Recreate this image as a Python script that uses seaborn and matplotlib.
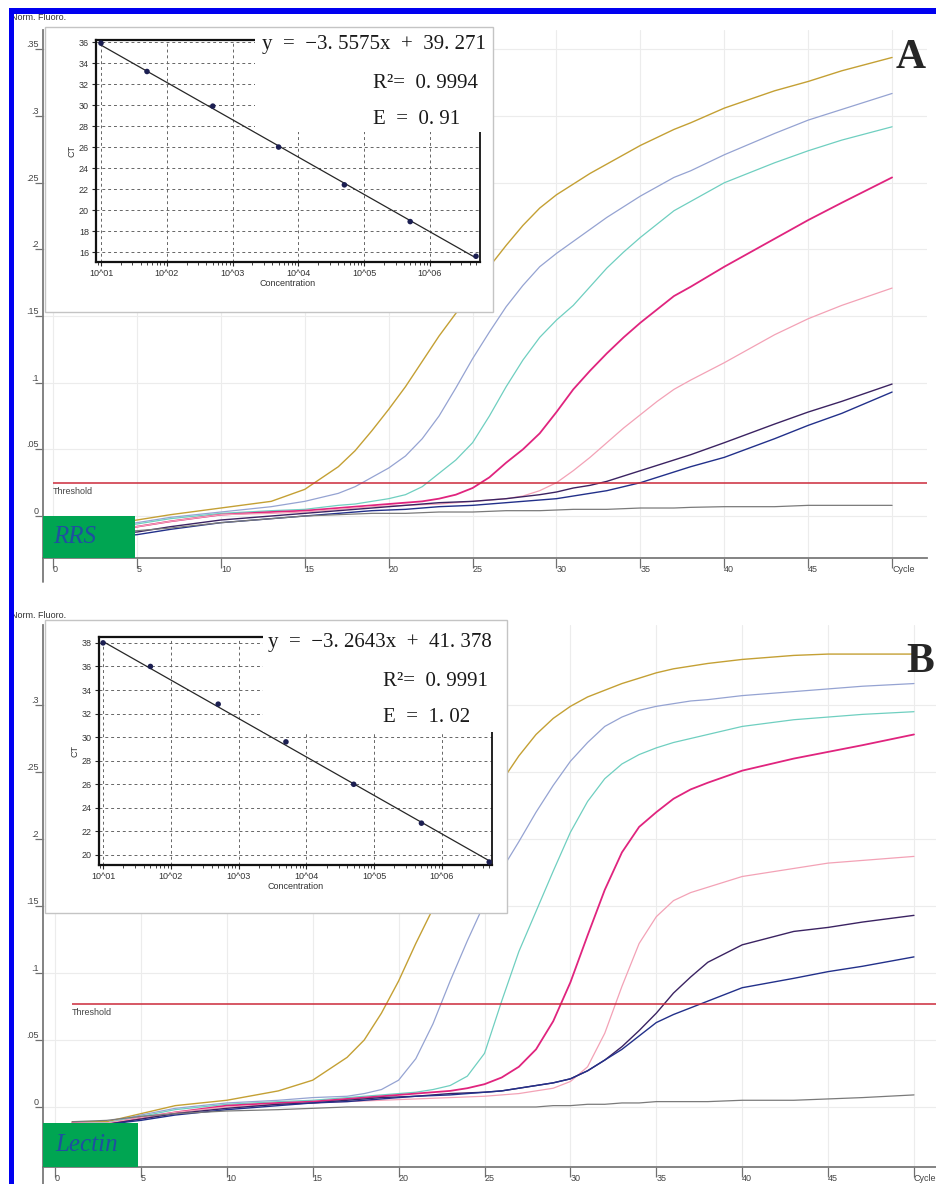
import numpy as np
import pandas as pd
import matplotlib
matplotlib.use('Agg')
import matplotlib.pyplot as plt
from matplotlib.patches import Rectangle
import seaborn as sns

W, H = 937, 1184

# amplification curves (Norm. Fluoro. vs cycle)
cycles = [1, 3, 5, 7, 10, 13, 15, 17, 18, 19, 20, 21, 22, 23, 24, 25, 26, 27, 28, 29, 30,
          31, 32, 33, 34, 35, 36, 37, 38, 40, 43, 45, 47, 50]
sample_names = ['std1', 'std2', 'std3', 'std4', 'std5', 'std6', 'std7', 'NTC']
line_colors = ['#c4a034', '#95a3d2', '#6fcfc0', '#e0247e', '#f3a2b6', '#3b2362', '#22308a', '#7a7a7a']
line_widths = [1.0, 0.9, 0.9, 1.3, 0.9, 1.0, 1.0, 0.9]

# panel A (RRS)
gold_a = [-0.012, -0.007, -0.003, 0.001, 0.006, 0.011, 0.020, 0.037, 0.049, 0.064, 0.080, 0.097, 0.116, 0.135, 0.152, 0.168, 0.187,
          0.203, 0.218, 0.231, 0.241, 0.249, 0.257, 0.264, 0.271, 0.278, 0.284, 0.290, 0.295, 0.306, 0.319, 0.326, 0.334, 0.344]
blue_a = [-0.014, -0.009, -0.005, -0.001, 0.003, 0.007, 0.011, 0.017, 0.022, 0.029, 0.036, 0.045, 0.058, 0.075, 0.096, 0.118, 0.138,
          0.157, 0.173, 0.187, 0.197, 0.206, 0.215, 0.224, 0.232, 0.240, 0.247, 0.254, 0.259, 0.271, 0.287, 0.297, 0.305, 0.317]
cyan_a = [-0.013, -0.009, -0.006, -0.002, 0.002, 0.004, 0.005, 0.008, 0.009, 0.011, 0.013, 0.016, 0.022, 0.032, 0.042, 0.055, 0.075,
          0.097, 0.117, 0.134, 0.147, 0.158, 0.172, 0.186, 0.198, 0.209, 0.219, 0.229, 0.236, 0.250, 0.265, 0.274, 0.282, 0.292]
mag_a = [-0.013, -0.011, -0.008, -0.004, 0.001, 0.003, 0.004, 0.006, 0.007, 0.008, 0.009, 0.010, 0.011, 0.013, 0.016, 0.021, 0.029,
         0.040, 0.050, 0.062, 0.078, 0.095, 0.109, 0.122, 0.134, 0.145, 0.155, 0.165, 0.172, 0.187, 0.208, 0.222, 0.235, 0.254]
pink_a = [-0.012, -0.010, -0.008, -0.004, 0.001, 0.002, 0.003, 0.005, 0.006, 0.007, 0.0075, 0.008, 0.0085, 0.009, 0.010, 0.011, 0.012,
          0.013, 0.015, 0.019, 0.025, 0.034, 0.044, 0.055, 0.066, 0.076, 0.086, 0.095, 0.102, 0.115, 0.136, 0.148, 0.158, 0.171]
purple_a = [-0.016, -0.014, -0.012, -0.008, -0.003, 0.000, 0.002, 0.004, 0.005, 0.006, 0.007, 0.008, 0.009, 0.010, 0.0105, 0.011, 0.012,
            0.013, 0.0145, 0.016, 0.018, 0.021, 0.023, 0.026, 0.030, 0.034, 0.038, 0.042, 0.046, 0.055, 0.069, 0.078, 0.086, 0.099]
navy_a = [-0.018, -0.016, -0.014, -0.010, -0.005, -0.002, 0.000, 0.002, 0.003, 0.004, 0.0045, 0.005, 0.006, 0.007, 0.0075, 0.008, 0.009,
          0.010, 0.011, 0.012, 0.013, 0.015, 0.017, 0.019, 0.022, 0.025, 0.029, 0.033, 0.037, 0.044, 0.058, 0.068, 0.077, 0.093]
grey_a = [-0.015, -0.013, -0.011, -0.009, -0.005, -0.002, 0.000, 0.001, 0.0015, 0.002, 0.002, 0.002, 0.0025, 0.003, 0.003, 0.003, 0.0035,
          0.004, 0.004, 0.004, 0.0045, 0.005, 0.005, 0.005, 0.0055, 0.006, 0.006, 0.006, 0.0065, 0.007, 0.007, 0.008, 0.008, 0.008]

# panel B (Lectin)
gold_b = [-0.011, -0.011, -0.005, 0.001, 0.005, 0.012, 0.020, 0.037, 0.050, 0.070, 0.094, 0.122, 0.148, 0.175, 0.200, 0.222, 0.243,
          0.262, 0.278, 0.290, 0.299, 0.306, 0.311, 0.316, 0.320, 0.324, 0.327, 0.329, 0.331, 0.334, 0.337, 0.338, 0.338, 0.338]
blue_b = [-0.012, -0.012, -0.006, -0.001, 0.003, 0.005, 0.007, 0.008, 0.010, 0.013, 0.020, 0.036, 0.062, 0.094, 0.124, 0.152, 0.177,
          0.198, 0.220, 0.240, 0.258, 0.272, 0.284, 0.291, 0.296, 0.299, 0.301, 0.303, 0.304, 0.307, 0.310, 0.312, 0.314, 0.316]
cyan_b = [-0.012, -0.012, -0.007, -0.002, 0.002, 0.004, 0.005, 0.007, 0.008, 0.009, 0.010, 0.011, 0.013, 0.016, 0.023, 0.040, 0.079,
          0.116, 0.146, 0.176, 0.205, 0.228, 0.245, 0.256, 0.263, 0.268, 0.272, 0.275, 0.278, 0.284, 0.289, 0.291, 0.293, 0.295]
mag_b = [-0.012, -0.013, -0.008, -0.004, 0.001, 0.003, 0.004, 0.006, 0.007, 0.008, 0.009, 0.010, 0.011, 0.012, 0.014, 0.017, 0.022,
         0.030, 0.043, 0.064, 0.093, 0.128, 0.162, 0.190, 0.209, 0.220, 0.230, 0.237, 0.242, 0.251, 0.260, 0.265, 0.270, 0.278]
pink_b = [-0.012, -0.012, -0.008, -0.004, 0.000, 0.002, 0.003, 0.004, 0.0045, 0.005, 0.0055, 0.006, 0.0065, 0.007, 0.0075, 0.008, 0.009,
          0.010, 0.012, 0.014, 0.019, 0.030, 0.055, 0.090, 0.122, 0.142, 0.154, 0.160, 0.164, 0.172, 0.178, 0.182, 0.184, 0.187]
purple_b = [-0.013, -0.013, -0.009, -0.005, -0.001, 0.002, 0.003, 0.005, 0.006, 0.007, 0.0075, 0.008, 0.009, 0.010, 0.0105, 0.011, 0.012,
            0.014, 0.016, 0.018, 0.021, 0.027, 0.035, 0.045, 0.057, 0.070, 0.085, 0.097, 0.108, 0.121, 0.131, 0.134, 0.138, 0.143]
navy_b = [-0.013, -0.013, -0.010, -0.006, -0.002, 0.001, 0.003, 0.004, 0.005, 0.006, 0.007, 0.008, 0.0085, 0.009, 0.010, 0.011, 0.012,
          0.014, 0.016, 0.018, 0.021, 0.027, 0.035, 0.043, 0.053, 0.063, 0.069, 0.074, 0.079, 0.089, 0.096, 0.101, 0.105, 0.112]
grey_b = [-0.011, -0.010, -0.007, -0.005, -0.003, -0.002, -0.001, 0.000, 0.000, 0.000, 0.000, 0.000, 0.000, 0.000, 0.000, 0.000, 0.000,
          0.000, 0.000, 0.001, 0.001, 0.002, 0.002, 0.003, 0.003, 0.004, 0.004, 0.004, 0.004, 0.005, 0.005, 0.006, 0.007, 0.009]

thr_a, thr_a_from = 0.0245, 0
thr_b, thr_b_from = 0.077, 1

x_ticks = [0, 5, 10, 15, 20, 25, 30, 35, 40, 45, 50]
x_labels = ['0', '5', '10', '15', '20', '25', '30', '35', '40', '45', 'Cycle']
y_ticks_a = [0, 0.05, 0.1, 0.15, 0.2, 0.25, 0.3, 0.35]
y_labels_a = ['0', '.05', '.1', '.15', '.2', '.25', '.3', '.35']
y_ticks_b = [0, 0.05, 0.1, 0.15, 0.2, 0.25, 0.3]
y_labels_b = ['0', '.05', '.1', '.15', '.2', '.25', '.3']

# standard curves (inset)
conc = [10, 50, 500, 5000, 50000, 500000, 5000000]
ct_a = [35.9, 33.2, 29.9, 26.0, 22.4, 18.9, 15.6]
ct_b = [38.0, 36.0, 32.8, 29.6, 26.0, 22.7, 19.4]
slope_a, icpt_a = -3.5575, 39.271
slope_b, icpt_b = -3.2643, 41.378
dec_ticks = [1e1, 1e2, 1e3, 1e4, 1e5, 1e6]
dec_labels = ['10^01', '10^02', '10^03', '10^04', '10^05', '10^06']

sns.set_theme(style='white')
plt.rcParams['font.family'] = ['Liberation Sans', 'DejaVu Sans']

fig = plt.figure(figsize=(W / 100, H / 100), dpi=100)


def fx(x):
    return x / W


def fy(y):
    return 1 - y / H


def rect_px(l, t, r, b):
    return [fx(l), fy(b), (r - l) / W, (b - t) / H]


def to_long(curves):
    rows = []
    for name, vals in zip(sample_names, curves):
        for c, v in zip(cycles, vals):
            rows.append((name, c, v))
    return pd.DataFrame(rows, columns=['sample', 'cycle', 'fluor'])


def draw_panel(rect, curves, thr, thr_from, xlim, ylim, yticks, ylabels, box, tag, ext):
    ax = fig.add_axes(rect)
    df = to_long(curves)
    sns.lineplot(data=df, x='cycle', y='fluor', hue='sample', hue_order=sample_names,
                 palette=dict(zip(sample_names, line_colors)), legend=False,
                 errorbar=None, linewidth=0.9, ax=ax, zorder=2)
    for line, lw in zip(ax.lines, line_widths):
        line.set_linewidth(lw)
        line.set_solid_joinstyle('round')
    ax.set_xlim(xlim)
    ax.set_ylim(ylim)
    ax.set_xticks(x_ticks)
    ax.set_xticklabels(x_labels)
    ax.set_yticks(yticks)
    ax.set_yticklabels(ylabels)
    ax.set_xlabel('')
    ax.set_ylabel('')
    ax.grid(True, color='#ececec', lw=0.8)
    ax.set_axisbelow(True)
    sns.despine(ax=ax)
    for s in ['left', 'bottom']:
        ax.spines[s].set_color('#7a7a7a')
        ax.spines[s].set_linewidth(1.3)
    ax.plot([0, 0], [0, -ext], transform=ax.transAxes, color='#7a7a7a', lw=1.3, clip_on=False)
    ax.tick_params(axis='both', which='major', bottom=True, left=True, color='#707070',
                   labelcolor='#444444', labelsize=6.5, width=0.9)
    ax.tick_params(axis='x', length=7, pad=-2)
    ax.tick_params(axis='y', length=6, pad=-3)
    for lab in ax.get_xticklabels():
        lab.set_horizontalalignment('left')
    for lab in ax.get_yticklabels():
        lab.set_verticalalignment('bottom')
    # threshold
    ax.hlines(thr, thr_from, xlim[1], color='#cc2a3a', lw=1.1, zorder=3)
    ax.text(thr_from, thr - 0.003, 'Threshold', ha='left', va='top', fontsize=6.5, color='#444444')
    # green tag box
    bx_r, bx_t = box
    ax.add_patch(Rectangle((xlim[0], ylim[0]), bx_r - xlim[0], bx_t - ylim[0],
                           facecolor='#00a552', edgecolor='none', zorder=5))
    ax.text(0, (bx_t + ylim[0]) / 2, tag, ha='left', va='center', fontsize=18,
            style='italic', family='Liberation Serif', color='#1f4fa0', zorder=6)
    return ax


def draw_inset(box_px, ax_px, cover_px, ct, slope, icpt, xlim, ylim, yticks):
    l, t, r, b = box_px
    fig.add_artist(Rectangle((fx(l), fy(b)), (r - l) / W, (b - t) / H, transform=fig.transFigure,
                             facecolor='white', edgecolor='#c4c4c4', lw=1.0, zorder=1))
    axi = fig.add_axes(rect_px(*ax_px))
    axi.set_zorder(3)
    axi.set_xscale('log')
    sns.scatterplot(x=conc, y=ct, ax=axi, color='#1c1f52', s=16, edgecolor='none', zorder=6)
    xs = np.array([conc[0], conc[-1]], dtype=float)
    axi.plot(xs, slope * np.log10(xs) + icpt, color='#262626', lw=0.9, zorder=5)
    axi.set_xlim(xlim)
    axi.set_ylim(ylim)
    axi.set_xticks(dec_ticks)
    axi.set_xticklabels(dec_labels)
    axi.set_yticks(yticks)
    axi.grid(True, which='major', ls=(0, (3, 3)), color='#666666', lw=0.7)
    axi.set_axisbelow(True)
    axi.tick_params(axis='both', which='major', bottom=True, left=True, length=3, width=0.8,
                    labelsize=6.5, labelcolor='#333333', pad=2)
    axi.tick_params(axis='x', which='minor', bottom=True, length=2, width=0.6)
    axi.set_xlabel('Concentration', fontsize=6.5, labelpad=1, color='#333333')
    axi.set_ylabel('CT', fontsize=6.5, labelpad=2, color='#333333')
    for s in axi.spines.values():
        s.set_color('#111111')
        s.set_linewidth(1.6)
    axi.spines['right'].set_linewidth(1.3)
    cl, ct_, cr, cb = cover_px
    axi.add_patch(Rectangle((fx(cl), fy(cb)), (cr - cl) / W, (cb - ct_) / H, transform=fig.transFigure,
                            facecolor='white', edgecolor='none', zorder=10, clip_on=False))
    return axi


# panel A
draw_panel(rect_px(43, 30, 927, 558),
           [gold_a, blue_a, cyan_a, mag_a, pink_a, purple_a, navy_a, grey_a],
           thr_a, thr_a_from, (-0.6, 52.08), (-0.0315, 0.3646), y_ticks_a, y_labels_a,
           (4.9, 0.0), 'RRS', 24 / 528)
draw_inset((45, 27, 493, 312), (96, 40, 480, 262), (255, 30, 489, 132),
           ct_a, slope_a, icpt_a, (10 ** 0.924, 10 ** 6.76), (15.05, 36.2), list(range(16, 37, 2)))

# panel B
draw_panel(rect_px(43, 625, 937, 1167),
           [gold_b, blue_b, cyan_b, mag_b, pink_b, purple_b, navy_b, grey_b],
           thr_b, thr_b_from, (-0.7, 51.34), (-0.0448, 0.3597), y_ticks_b, y_labels_b,
           (4.83, -0.012), 'Lectin', 17 / 542)
draw_inset((45, 620, 507, 913), (99, 637, 492, 865), (263, 626, 503, 732),
           ct_b, slope_b, icpt_b, (10 ** 0.94, 10 ** 6.74), (19.15, 38.5), list(range(20, 39, 2)))

serif = ['Liberation Serif', 'DejaVu Serif']
txt = dict(family=serif, fontsize=15, color='#1a1a1a', va='center', ha='left', zorder=12)
fig.text(fx(262), fy(45), 'y  =  \u22123. 5575x  +  39. 271', **txt)
fig.text(fx(373), fy(83), 'R\u00b2=  0. 9994', **txt)
fig.text(fx(373), fy(120), 'E  =  0. 91', **txt)
fig.text(fx(268), fy(643), 'y  =  \u22123. 2643x  +  41. 378', **txt)
fig.text(fx(383), fy(682), 'R\u00b2=  0. 9991', **txt)
fig.text(fx(383), fy(718), 'E  =  1. 02', **txt)

fig.text(fx(911), fy(58), 'A', family=serif, fontsize=30, fontweight='bold', ha='center', va='center', zorder=12)
fig.text(fx(934), fy(662), 'B', family=serif, fontsize=30, fontweight='bold', ha='right', va='center', zorder=12)

fig.text(fx(11), fy(18), 'Norm. Fluoro.', fontsize=6.5, color='#333333', ha='left', va='center', zorder=12)
fig.text(fx(11), fy(616), 'Norm. Fluoro.', fontsize=6.5, color='#333333', ha='left', va='center', zorder=12)

# blue frame on top and left
fig.add_artist(Rectangle((fx(9), fy(14)), 1 - fx(9), 6 / H, transform=fig.transFigure,
                         facecolor='#0000f0', edgecolor='none', zorder=20))
fig.add_artist(Rectangle((fx(9), 0), 5 / W, fy(8), transform=fig.transFigure,
                         facecolor='#0000f0', edgecolor='none', zorder=20))

fig.savefig('out.png', dpi=100)
